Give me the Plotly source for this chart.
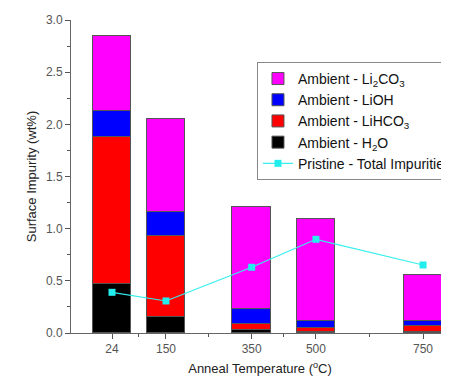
import plotly.graph_objects as go

temps = [24, 150, 350, 500, 750]
h2o = [0.47, 0.156, 0.03, 0.005, 0.005]
lihco3 = [1.41, 0.777, 0.06, 0.043, 0.058]
lioh = [0.245, 0.23, 0.144, 0.07, 0.054]
li2co3 = [0.72, 0.887, 0.977, 0.975, 0.438]
pristine = [0.39, 0.307, 0.63, 0.898, 0.652]

tick_vals = [24, 150, 350, 500, 750]
tick_text = ["24", "150", "350", "500", "750"]
minor_vals = [87, 250, 425, 625]

font_family = "Liberation Sans, Arial, sans-serif"
outline = dict(color="#555555", width=1)
bar_width = 90

fig = go.Figure()
series = [
    ("Ambient - H<sub>2</sub>O", h2o, "#000000", 4),
    ("Ambient - LiHCO<sub>3</sub>", lihco3, "#FF0000", 3),
    ("Ambient - LiOH", lioh, "#0000FF", 2),
    ("Ambient - Li<sub>2</sub>CO<sub>3</sub>", li2co3, "#FF00FF", 1),
]
for name, vals, color, rank in series:
    fig.add_trace(go.Bar(
        x=temps, y=vals, name=name, width=bar_width,
        marker=dict(color=color, line=outline),
        legendrank=rank,
    ))

fig.add_trace(go.Scatter(
    x=temps, y=pristine, name="Pristine - Total Impurities",
    mode="lines+markers",
    line=dict(color="#33EEEE", width=1.2),
    marker=dict(symbol="square", size=7, color="#22EEEE"),
    legendrank=5,
))

fig.update_layout(
    width=441, height=375,
    margin=dict(l=63, r=0, t=12, b=50, autoexpand=False),
    barmode="stack",
    bargap=0,
    plot_bgcolor="white",
    paper_bgcolor="white",
    font=dict(family=font_family, size=12, color="#333333"),
    showlegend=True,
    legend=dict(
        x=0.492, y=0.866, xanchor="left", yanchor="top",
        bordercolor="#888888", borderwidth=1,
        bgcolor="white",
        font=dict(size=14, color="#111111"),
        traceorder="normal",
        tracegroupgap=0,
        itemwidth=30,
    ),
    xaxis=dict(
        range=[-71.7, 810.6],
        automargin=False,
        tickmode="array", tickvals=tick_vals, ticktext=tick_text,
        ticks="outside", ticklen=5, tickcolor="#555555",
        showline=True, linecolor="#666666", linewidth=1,
        showgrid=False, zeroline=False,
        tickfont=dict(size=12, color="#555555"),
        minor=dict(tickmode="array", tickvals=minor_vals, ticks="outside",
                   ticklen=3, tickcolor="#555555", showgrid=False),
        title=dict(text="Anneal Temperature (<sup>o</sup>C)",
                   font=dict(size=13, color="#222222"), standoff=8),
    ),
    yaxis=dict(
        range=[0, 3.0],
        automargin=False,
        tickmode="array", tickvals=[0, 0.5, 1.0, 1.5, 2.0, 2.5, 3.0],
        ticktext=["0.0", "0.5", "1.0", "1.5", "2.0", "2.5", "3.0"],
        ticks="outside", ticklen=5, tickcolor="#555555",
        showline=True, linecolor="#666666", linewidth=1,
        showgrid=False, zeroline=False,
        tickfont=dict(size=12, color="#555555"),
        minor=dict(dtick=0.25, ticks="outside", ticklen=3,
                   tickcolor="#555555", showgrid=False),
        title=dict(text="Surface Impurity (wt%)",
                   font=dict(size=13, color="#222222"), standoff=6),
    ),
)

fig.write_html("out.html")
